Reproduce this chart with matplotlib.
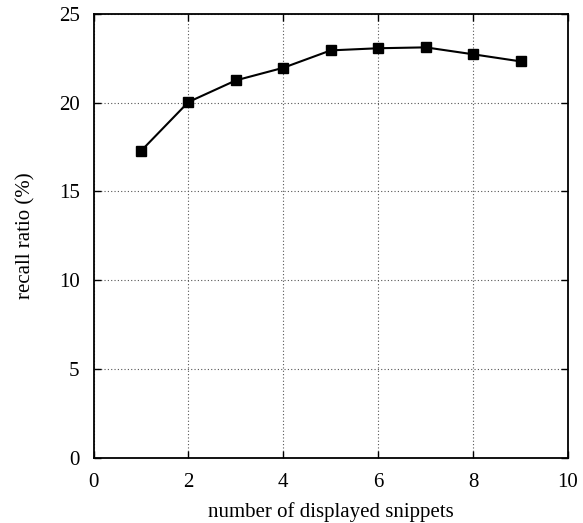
import matplotlib
matplotlib.use("Agg")
import matplotlib.pyplot as plt

x_values = [1, 2, 3, 4, 5, 6, 7, 8, 9]
recall = [17.28, 20.04, 21.26, 21.97, 22.95, 23.07, 23.12, 22.73, 22.33]
x_ticks = [0, 2, 4, 6, 8, 10]
y_ticks = [0, 5, 10, 15, 20, 25]

plt.rcParams['font.family'] = ['Liberation Serif', 'DejaVu Serif']

fig = plt.figure(figsize=(5.83, 5.23), dpi=100)
ax = fig.add_axes([93.5/583, 1 - 457.7/523, (568 - 93.5)/583, (457.7 - 14)/523])

ax.plot(x_values, recall, color='black', lw=1.5, marker='s', markersize=7,
        markerfacecolor='black', markeredgecolor='black', zorder=3)

ax.set_xlim(0, 10)
ax.set_ylim(0, 25)
ax.set_xticks(x_ticks)
ax.set_yticks(y_ticks)
ax.grid(True, color='#555555', linestyle=(0, (1, 2)), linewidth=0.8)
ax.tick_params(direction='in', length=5, width=1, top=True, right=True,
               labelsize=15)
ax.tick_params(axis='x', pad=11)
ax.tick_params(axis='y', pad=10)
for s in ax.spines.values():
    s.set_linewidth(1.3)

ax.set_xlabel('number of displayed snippets', fontsize=15, labelpad=7)
ax.set_ylabel('recall ratio (%)', fontsize=15, labelpad=17)

fig.savefig('out.png', dpi=100)
